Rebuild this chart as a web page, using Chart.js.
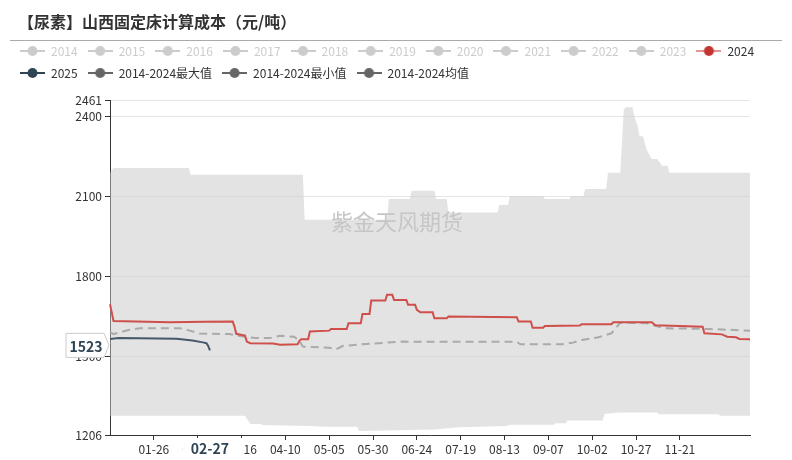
<!DOCTYPE html>
<html lang="zh-CN">
<head>
<meta charset="UTF-8">
<title>山西固定床计算成本</title>
<script src="https://cdn.jsdelivr.net/npm/chart.js@4"></script>
<style>
  html, body { margin: 0; padding: 0; background: #fff; }
  #wrap { width: 792px; height: 460px; }
</style>
</head>
<body>
<div id="wrap"><canvas id="costChart" width="792" height="460"></canvas></div>
<script>
// x axis: one category per calendar day (2024 is a leap year, so 02-29 is included)
const dayLabels = [];
for (let d = new Date(2024, 0, 1); d.getFullYear() === 2024; d.setDate(d.getDate() + 1)) {
  dayLabels.push(String(d.getMonth() + 1).padStart(2, '0') + '-' + String(d.getDate()).padStart(2, '0'));
}
const xTickDays = ['01-26', '02-20', '03-16', '04-10', '05-05', '05-30', '06-24', '07-19', '08-13', '09-07', '10-02', '10-27', '11-21'];
const yTicks = [1206, 1500, 1800, 2100, 2400, 2461];
const hiddenYears = ['2014', '2015', '2016', '2017', '2018', '2019', '2020', '2021', '2022', '2023'];

// series: [day, 元/吨]
const data2024 = [['01-01', 1696], ['01-03', 1633], ['02-04', 1628], ['02-24', 1630], ['03-11', 1631], ['03-12', 1612],
  ['03-13', 1585], ['03-18', 1578], ['03-19', 1556], ['03-21', 1550], ['04-03', 1549], ['04-07', 1544], ['04-17', 1546],
  ['04-18', 1558], ['04-19', 1565], ['04-23', 1565], ['04-24', 1594], ['05-05', 1597], ['05-06', 1603], ['05-15', 1603],
  ['05-16', 1625], ['05-23', 1625], ['05-24', 1659], ['05-28', 1659], ['05-29', 1710], ['06-06', 1710], ['06-07', 1731],
  ['06-10', 1731], ['06-11', 1712], ['06-18', 1712], ['06-19', 1694], ['06-23', 1694], ['06-24', 1675], ['06-26', 1666],
  ['07-03', 1666], ['07-04', 1643], ['07-11', 1643], ['07-12', 1650], ['08-20', 1647], ['08-21', 1631], ['08-28', 1631],
  ['08-29', 1608], ['09-04', 1608], ['09-05', 1614], ['09-25', 1616], ['09-26', 1621], ['10-13', 1621], ['10-14', 1628],
  ['11-05', 1628], ['11-07', 1617], ['12-04', 1612], ['12-05', 1587], ['12-15', 1583], ['12-18', 1574], ['12-23', 1572],
  ['12-25', 1566], ['12-31', 1565]];
const data2025 = [['01-01', 1566], ['01-06', 1569], ['02-08', 1567], ['02-17', 1560], ['02-23', 1553], ['02-25', 1550],
  ['02-26', 1540], ['02-27', 1523]];
const maxBand = [['01-01', 2188], ['01-03', 2206], ['02-15', 2206], ['02-16', 2181], ['04-20', 2181], ['04-21', 2012],
  ['06-07', 2012], ['06-08', 2090], ['06-20', 2090], ['06-21', 2121], ['07-04', 2121], ['07-05', 2090], ['07-11', 2090],
  ['07-12', 2040], ['08-09', 2040], ['08-10', 2068], ['08-15', 2068], ['08-16', 2100], ['09-04', 2100], ['09-05', 2090],
  ['09-19', 2090], ['09-20', 2100], ['09-27', 2100], ['09-28', 2128], ['10-10', 2128], ['10-11', 2188], ['10-18', 2188],
  ['10-19', 2300], ['10-20', 2424], ['10-21', 2434], ['10-25', 2434], ['10-26', 2400], ['10-28', 2362], ['10-29', 2325],
  ['10-31', 2325], ['11-02', 2275], ['11-05', 2240], ['11-08', 2240], ['11-11', 2215], ['11-14', 2215], ['11-15', 2188],
  ['12-31', 2188]];
const minBand = [['01-01', 1278], ['03-18', 1278], ['03-21', 1247], ['03-27', 1247], ['03-28', 1243], ['04-24', 1240],
  ['05-02', 1237], ['05-21', 1237], ['05-22', 1221], ['07-04', 1227], ['07-18', 1235], ['08-14', 1240], ['08-16', 1244],
  ['09-10', 1244], ['09-11', 1250], ['09-17', 1250], ['09-18', 1260], ['10-08', 1260], ['10-09', 1285], ['10-17', 1290],
  ['11-08', 1290], ['11-09', 1284], ['12-13', 1284], ['12-14', 1278], ['12-31', 1278]];
const meanLine = [['01-01', 1591], ['01-03', 1584], ['01-12', 1600], ['01-18', 1606], ['02-10', 1606], ['02-15', 1598],
  ['02-21', 1586], ['03-09', 1584], ['03-15', 1577], ['03-24', 1569], ['04-01', 1569], ['04-07', 1578], ['04-15', 1574],
  ['04-18', 1560], ['04-20', 1537], ['05-05', 1533], ['05-09', 1527], ['05-13', 1540], ['05-24', 1546], ['06-16', 1556],
  ['07-02', 1555], ['08-20', 1555], ['08-22', 1546], ['09-15', 1546], ['09-21', 1552], ['09-26', 1562], ['10-05', 1571],
  ['10-13', 1587], ['10-18', 1627], ['11-02', 1625], ['11-07', 1615], ['11-12', 1606], ['12-08', 1603], ['12-31', 1597]];

const FONT = '"Noto Sans CJK SC", "Noto Sans", sans-serif';
Chart.defaults.font.family = FONT;

const pts = arr => arr.map(([x, y]) => ({ x, y }));

// echarts-like legend icon: short line with a dot
function makeIcon(lineColor, dotColor) {
  const c = document.createElement('canvas');
  c.width = 25; c.height = 12;
  const g = c.getContext('2d');
  g.strokeStyle = lineColor; g.lineWidth = 2;
  g.beginPath(); g.moveTo(0, 6); g.lineTo(25, 6); g.stroke();
  g.fillStyle = dotColor;
  g.beginPath(); g.arc(12.5, 6, 5, 0, Math.PI * 2); g.fill();
  return c;
}

const base = { pointRadius: 0, pointHoverRadius: 0, tension: 0, fill: false };
const datasets = hiddenYears.map(y => ({
  ...base, label: y, data: [], borderColor: '#ccc', icon: makeIcon('#ccc', '#ccc'), textColor: '#ccc'
}));
datasets.push(
  { ...base, label: '2024', data: pts(data2024), borderColor: '#cf4f4b', borderWidth: 2,
    icon: makeIcon('#e39593', '#c23531'), textColor: '#333' },
  { ...base, label: '2025', data: pts(data2025), borderColor: '#46596a', borderWidth: 2,
    icon: makeIcon('#2f4554', '#2f4554'), textColor: '#333' },
  { ...base, label: '2014-2024最大值', data: pts(maxBand), borderColor: 'transparent', borderWidth: 0,
    fill: '+1', backgroundColor: 'rgba(200,200,200,0.5)', icon: makeIcon('#666', '#666'), textColor: '#333' },
  { ...base, label: '2014-2024最小值', data: pts(minBand), borderColor: 'transparent', borderWidth: 0,
    icon: makeIcon('#666', '#666'), textColor: '#333' },
  { ...base, label: '2014-2024均值', data: pts(meanLine), borderColor: '#aaa', borderWidth: 2, borderDash: [8, 5],
    icon: makeIcon('#666', '#666'), textColor: '#333' }
);

const decor = {
  id: 'decor',
  beforeDraw(chart) {
    const ctx = chart.ctx;
    ctx.save();
    ctx.fillStyle = '#333';
    ctx.font = 'bold 16px ' + FONT;
    ctx.textBaseline = 'middle';
    ctx.fillText('【尿素】山西固定床计算成本（元/吨）', 18, 22);
    ctx.strokeStyle = '#aaa';
    ctx.lineWidth = 1;
    ctx.beginPath(); ctx.moveTo(10, 40.5); ctx.lineTo(782, 40.5); ctx.stroke();
    ctx.restore();
  },
  afterDatasetsDraw(chart) {
    const ctx = chart.ctx;
    ctx.save();
    ctx.fillStyle = '#c6c6c6';
    ctx.font = '22px ' + FONT;
    ctx.textAlign = 'center';
    ctx.textBaseline = 'middle';
    ctx.fillText('紫金天风期货', 397, 222);
    ctx.restore();
  },
  afterDraw(chart) {
    const ctx = chart.ctx;
    const xs = chart.scales.x, ys = chart.scales.y;
    const last = data2025[data2025.length - 1];
    ctx.save();
    // current date label on the x axis
    const px = xs.getPixelForValue(dayLabels.indexOf(last[0]));
    ctx.font = 'bold 14px ' + FONT;
    const w = ctx.measureText(last[0]).width;
    ctx.fillStyle = '#fff';
    ctx.fillRect(px - w / 2 - 8, 438, w + 22, 21);
    ctx.fillStyle = '#2f4554';
    ctx.textAlign = 'center';
    ctx.textBaseline = 'middle';
    ctx.fillText(last[0], px, 449);
    // current value label on the y axis
    const py = ys.getPixelForValue(last[1]) - 5;
    ctx.beginPath();
    ctx.moveTo(66, py - 12); ctx.lineTo(104, py - 12); ctx.lineTo(109, py);
    ctx.lineTo(104, py + 12); ctx.lineTo(66, py + 12); ctx.closePath();
    ctx.fillStyle = '#fff'; ctx.fill();
    ctx.strokeStyle = '#ccc'; ctx.lineWidth = 1; ctx.stroke();
    ctx.fillStyle = '#2f4554';
    ctx.fillText(String(last[1]), 86, py + 1);
    ctx.restore();
  }
};

new Chart(document.getElementById('costChart'), {
  type: 'line',
  data: { labels: dayLabels, datasets },
  options: {
    responsive: false,
    animation: false,
    events: [],
    layout: { padding: { top: 35, left: 10, right: 0, bottom: 0 } },
    plugins: {
      tooltip: { enabled: false },
      filler: { drawTime: 'beforeDatasetsDraw' },
      legend: {
        align: 'start',
        labels: {
          usePointStyle: true,
          pointStyleWidth: 25,
          padding: 10,
          font: { size: 12 },
          generateLabels: chart => chart.data.datasets.map((ds, i) => ({
            text: ds.label, pointStyle: ds.icon, fontColor: ds.textColor, hidden: false,
            datasetIndex: i, lineWidth: 0, strokeStyle: 'transparent', fillStyle: 'transparent'
          }))
        }
      }
    },
    scales: {
      x: {
        offset: false,
        border: { color: '#333' },
        grid: { drawOnChartArea: false, tickLength: 5, tickColor: '#333' },
        ticks: { autoSkip: false, maxRotation: 0, color: '#333', font: { size: 12 }, padding: 2 },
        afterBuildTicks: s => { s.ticks = xTickDays.map(d => ({ value: dayLabels.indexOf(d) })); },
        afterFit: s => { s.height = 25; }
      },
      y: {
        min: 1206, max: 2461,
        border: { color: '#333' },
        grid: { color: '#e6e6e6', tickColor: '#333', tickLength: 5 },
        ticks: { autoSkip: false, color: '#333', font: { size: 12 }, padding: 3, callback: v => String(v) },
        afterBuildTicks: s => { s.ticks = yTicks.map(v => ({ value: v })); },
        afterFit: s => { s.width = 100; }
      },
      xTop: {
        type: 'category', position: 'top',
        grid: { display: false, drawTicks: false }, border: { display: false }, ticks: { display: false },
        afterFit: s => { s.height = 11; }
      },
      yRight: {
        type: 'linear', position: 'right',
        grid: { display: false, drawTicks: false }, border: { display: false }, ticks: { display: false },
        afterFit: s => { s.width = 42; }
      }
    }
  },
  plugins: [decor]
});
</script>
</body>
</html>
